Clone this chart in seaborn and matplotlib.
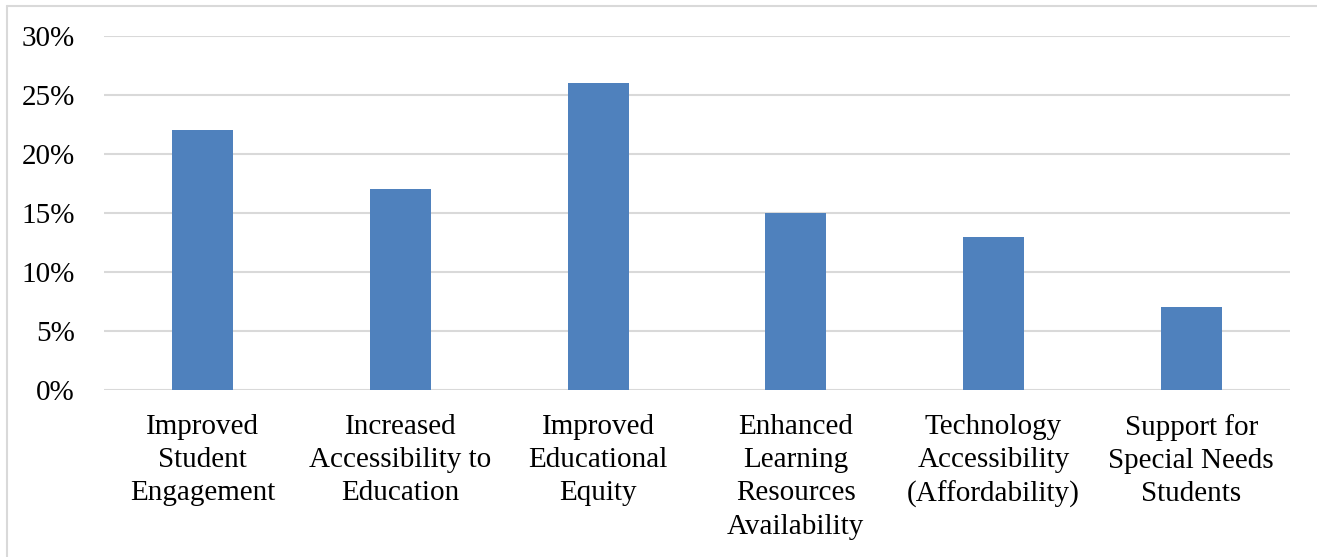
import matplotlib
matplotlib.use("Agg")
import matplotlib.pyplot as plt
from matplotlib.lines import Line2D
from matplotlib.ticker import FuncFormatter, MultipleLocator
import seaborn as sns
import pandas as pd

categories = [
    "Improved\nStudent\nEngagement",
    "Increased\nAccessibility to\nEducation",
    "Improved\nEducational\nEquity",
    "Enhanced\nLearning\nResources\nAvailability",
    "Technology\nAccessibility\n(Affordability)",
    "Support for\nSpecial Needs\nStudents",
]
shares = [22, 17, 26, 15, 13, 7]

sns.set_theme(style="white")
plt.rcParams["font.family"] = ["Liberation Serif", "DejaVu Serif"]

df = pd.DataFrame({"category": categories, "share": shares})

W, H = 1317, 557
fig = plt.figure(figsize=(W / 100, H / 100), dpi=100)
ax = fig.add_axes([104 / W, 1 - 390 / H, (1290 - 104) / W, (390 - 36) / H])

sns.barplot(data=df, x="category", y="share", color="#4F81BD",
            width=0.31, saturation=1, linewidth=0, ax=ax, zorder=3)

ax.set_ylim(0, 30)
ax.set_xlim(-0.5, len(categories) - 0.5)
ax.yaxis.set_major_locator(MultipleLocator(5))
ax.yaxis.set_major_formatter(FuncFormatter(lambda v, _: f"{v:.0f}%"))
ax.grid(axis="y", color="#D9D9D9", linewidth=1.5, zorder=0)
ax.set_axisbelow(True)
for s in ax.spines.values():
    s.set_visible(False)
ax.set_xlabel("")
ax.set_ylabel("")
ax.tick_params(axis="both", length=0, labelsize=21, colors="black")
ax.tick_params(axis="y", pad=21)
ax.tick_params(axis="x", pad=17)
for lab in ax.get_xticklabels():
    lab.set_linespacing(1.37)
    lab.set_verticalalignment("top")

# light frame around the chart area
fig.add_artist(Line2D([7 / W, 7 / W], [0, 1 - 6 / H], color="#D9D9D9",
                      linewidth=1.5, transform=fig.transFigure))
fig.add_artist(Line2D([7 / W, 1], [1 - 6 / H, 1 - 6 / H], color="#D9D9D9",
                      linewidth=1.5, transform=fig.transFigure))

fig.savefig("out.png", dpi=100, facecolor="white")
